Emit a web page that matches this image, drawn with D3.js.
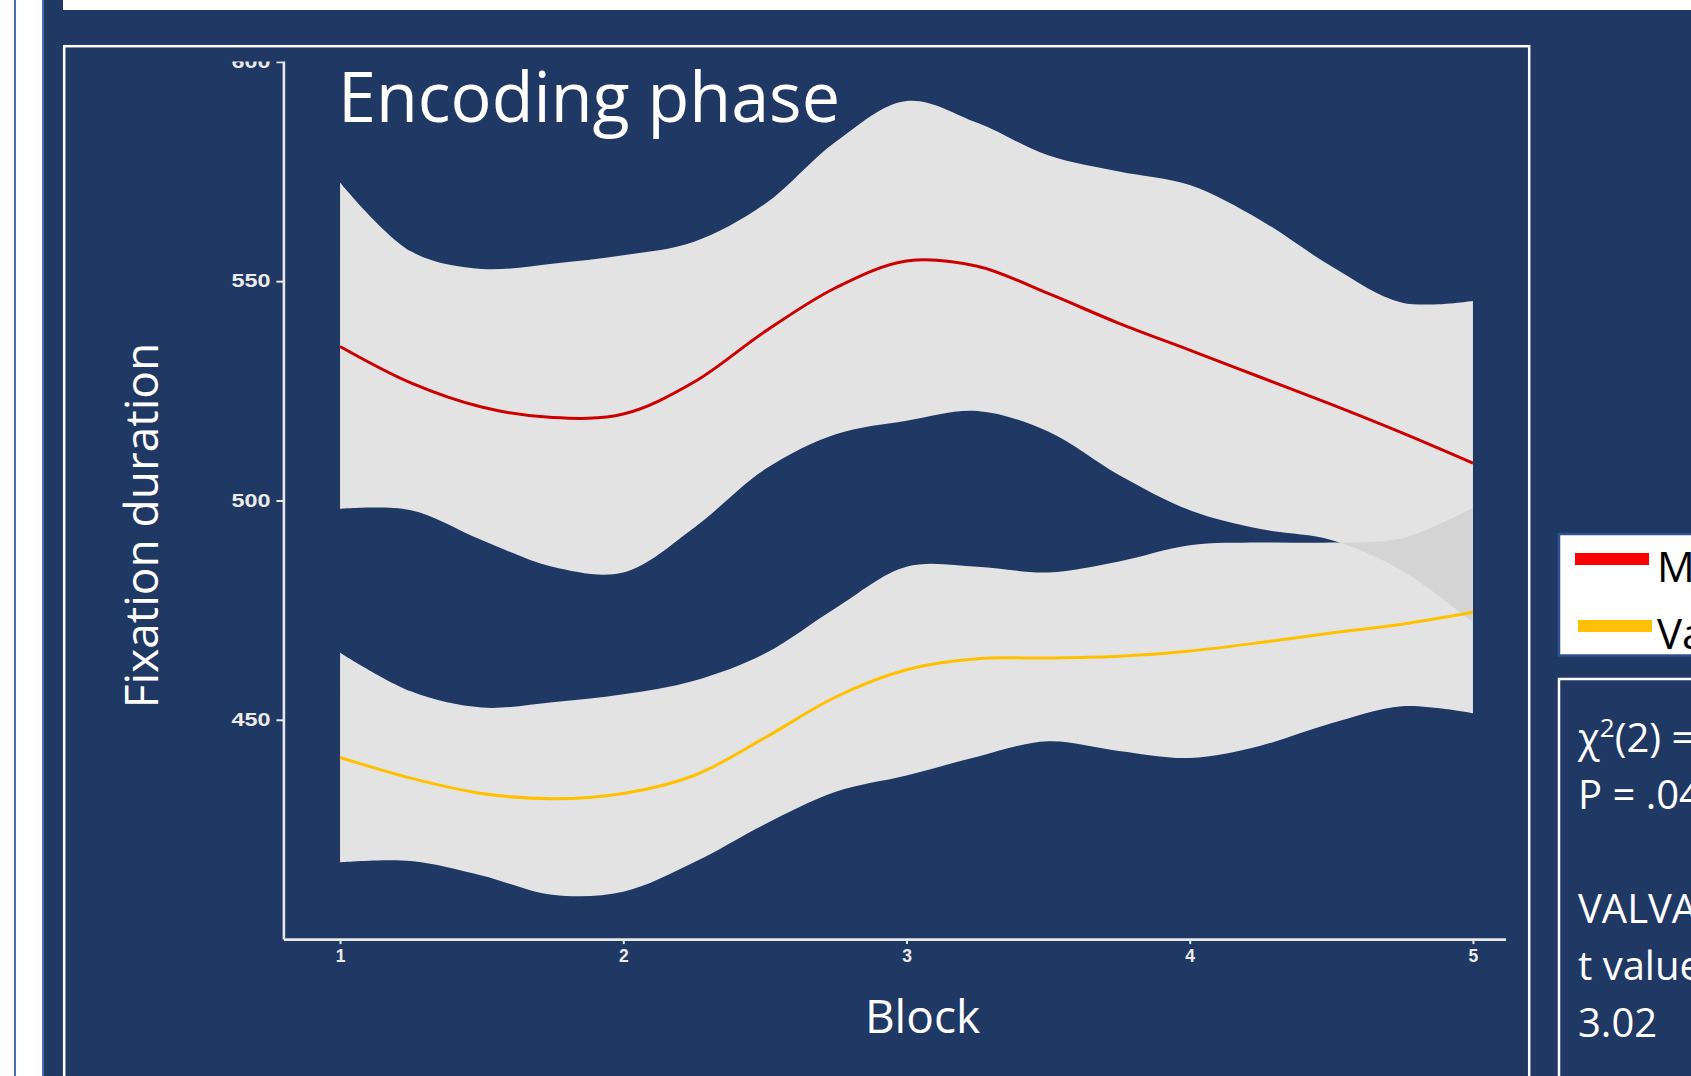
<!DOCTYPE html>
<html>
<head>
<meta charset="utf-8">
<script src="https://cdn.jsdelivr.net/npm/d3@7"></script>
<style>
  html, body { margin: 0; padding: 0; background: #ffffff; overflow: hidden; }
  svg { display: block; }
</style>
</head>
<body>
<svg id="slide" width="1691" height="1076"></svg>
<script>
// Loess fits of fixation duration per block, with 95% confidence ribbons
const blocks   = [1, 1.25, 1.5, 1.75, 2, 2.25, 2.5, 2.75, 3, 3.25, 3.5, 3.75, 4, 4.25, 4.5, 4.75, 5];
const redFit   = [535.1, 526.8, 521.3, 518.9, 519.7, 527.0, 538.5, 548.5, 554.6, 553.4, 547.2, 540.4, 534.3, 528.1, 521.9, 515.4, 508.5];
const redHigh  = [572.5, 556.8, 552.8, 554.0, 555.9, 559.0, 567.6, 581.8, 591.1, 586.1, 578.7, 575.0, 571.9, 563.9, 553.4, 545.1, 545.5];
const redLow   = [498.1, 497.8, 491.0, 484.9, 483.6, 493.8, 507.1, 515.1, 518.2, 520.4, 515.7, 505.8, 497.8, 493.5, 491.0, 484.0, 472.2];
const yelFit   = [441.4, 436.7, 433.2, 432.0, 433.2, 437.3, 445.9, 455.2, 461.4, 463.9, 464.1, 464.5, 465.7, 467.6, 469.8, 471.8, 474.5];
const yelHigh  = [465.3, 456.5, 452.8, 454.0, 455.8, 458.9, 465.1, 475.5, 484.9, 484.9, 483.6, 486.1, 489.8, 490.4, 490.4, 491.4, 498.3];
const yelLow   = [417.5, 417.8, 414.5, 410.1, 410.8, 417.5, 426.2, 433.6, 437.3, 441.6, 445.1, 442.9, 441.3, 444.1, 449.2, 453.1, 451.5];

const xTicks = [1, 2, 3, 4, 5];
const yTicks = [450, 500, 550, 600];

const chartTitle = "Encoding phase";
const xTitle = "Block";
const yTitle = "Fixation duration";
const legendLabels = ["M", "Va"];
const statLines = [
  { parts: [["χ", 0], ["2", 1], ["(2) =", 0]] },
  { parts: [["P = .04", 0]] },
  { parts: [["", 0]] },
  { parts: [["VALVA", 0]] },
  { parts: [["t value", 0]] },
  { parts: [["3.02", 0]] }
];

const NAVY = "#203864";
const BAND = "#e3e3e3";
const BAND_OVERLAP = "#d4d4d4";
const RED = "#cc0000";
const YELLOW = "#ffc000";

const svg = d3.select("#slide");

// Slide frame
svg.append("rect").attr("x", 0).attr("y", 0).attr("width", 1691).attr("height", 1076).attr("fill", "#ffffff");
svg.append("rect").attr("x", 14).attr("y", 0).attr("width", 2).attr("height", 1076).attr("fill", "#4a6fb2");
svg.append("rect").attr("x", 42).attr("y", 0).attr("width", 2.5).attr("height", 1076).attr("fill", "#4a6fb2");
svg.append("rect").attr("x", 44).attr("y", 0).attr("width", 1647).attr("height", 1076).attr("fill", NAVY);
svg.append("rect").attr("x", 63).attr("y", 0).attr("width", 1628).attr("height", 10).attr("fill", "#ffffff");

// Chart panel border
svg.append("rect").attr("x", 64.2).attr("y", 46.2).attr("width", 1465).attr("height", 1100)
  .attr("fill", "none").attr("stroke", "#ffffff").attr("stroke-width", 2.5);

// Scales
const x = d3.scaleLinear().domain([0.8, 5.2]).range([283.4, 1529.6]);
const y = d3.scaleLinear().domain([400, 602]).range([939.1, 53.1]);

const defs = svg.append("defs");
defs.append("clipPath").attr("id", "plotClip")
  .append("rect").attr("x", 170).attr("y", 61.5).attr("width", 1506 - 170).attr("height", 1000);

const plot = svg.append("g").attr("clip-path", "url(#plotClip)");

const rows = blocks.map((b, i) => ({
  b, rf: redFit[i], rh: redHigh[i], rl: redLow[i], yf: yelFit[i], yh: yelHigh[i], yl: yelLow[i]
}));

const curve = d3.curveCatmullRom.alpha(0.5);
const redArea = d3.area().x(d => x(d.b)).y0(d => y(d.rl)).y1(d => y(d.rh)).curve(curve);
const yelArea = d3.area().x(d => x(d.b)).y0(d => y(d.yl)).y1(d => y(d.yh)).curve(curve);

plot.append("path").attr("d", redArea(rows)).attr("fill", BAND);
plot.append("path").attr("d", yelArea(rows)).attr("fill", BAND);

// Where the two ribbons overlap the grey is darker
defs.append("clipPath").attr("id", "redBandClip")
  .append("path").attr("d", redArea(rows));
plot.append("path").attr("d", yelArea(rows)).attr("fill", BAND_OVERLAP)
  .attr("clip-path", "url(#redBandClip)");

const redLine = d3.line().x(d => x(d.b)).y(d => y(d.rf)).curve(curve);
const yelLine = d3.line().x(d => x(d.b)).y(d => y(d.yf)).curve(curve);
plot.append("path").attr("d", redLine(rows)).attr("fill", "none").attr("stroke", RED).attr("stroke-width", 3);
plot.append("path").attr("d", yelLine(rows)).attr("fill", "none").attr("stroke", YELLOW).attr("stroke-width", 3);

// Axes
const axisColor = "#e8e8e8";
const yAxis = plot.append("g").attr("transform", `translate(${x(0.8)},0)`)
  .call(d3.axisLeft(y).tickValues(yTicks).tickSize(7).tickPadding(6).tickSizeOuter(0));
const xAxis = plot.append("g").attr("transform", `translate(0,${y(400)})`)
  .call(d3.axisBottom(x).tickValues(xTicks).tickSize(5).tickPadding(5).tickSizeOuter(0).tickFormat(d3.format("d")));

[yAxis, xAxis].forEach(g => {
  g.select(".domain").attr("stroke", axisColor).attr("stroke-width", 2.6);
  g.selectAll(".tick line").attr("stroke", axisColor).attr("stroke-width", 2);
  g.selectAll(".tick text").attr("fill", "#ebebeb")
    .style("font-family", "'Liberation Sans', Arial, sans-serif").style("font-size", "17.5px")
    .style("font-weight", "bold");
});
yAxis.selectAll(".tick text").attr("textLength", 39).attr("lengthAdjust", "spacingAndGlyphs");

// Titles
svg.append("text").attr("x", 338).attr("y", 122)
  .attr("textLength", 502).attr("lengthAdjust", "spacingAndGlyphs")
  .style("font-family", "'Open Sans', sans-serif").style("font-size", "70px").attr("fill", "#ffffff")
  .text(chartTitle);

svg.append("text").attr("x", 922.5).attr("y", 1033).attr("text-anchor", "middle")
  .style("font-family", "'Open Sans', sans-serif").style("font-size", "46px").attr("fill", "#ffffff")
  .text(xTitle);

svg.append("text").attr("transform", "translate(158,525.5) rotate(-90)").attr("text-anchor", "middle")
  .style("font-family", "'Open Sans', sans-serif").style("font-size", "46px").attr("fill", "#ffffff")
  .text(yTitle);

// Legend box
const legend = svg.append("g");
legend.append("rect").attr("x", 1559).attr("y", 534).attr("width", 200).attr("height", 121.5)
  .attr("fill", "#ffffff").attr("stroke", "#2f528f").attr("stroke-width", 2.5);
const legendColors = ["#ff0000", YELLOW];
const legendY = [559, 626];
const legendX = [1575, 1578];
legendLabels.forEach((lab, i) => {
  legend.append("rect").attr("x", legendX[i]).attr("y", legendY[i] - 6).attr("width", 74).attr("height", 12)
    .attr("fill", legendColors[i]);
  legend.append("text").attr("x", 1657).attr("y", legendY[i] + 23)
    .style("font-family", "'Open Sans', sans-serif").style("font-size", "42px").attr("fill", "#000000")
    .text(lab);
});

// Statistics box
svg.append("rect").attr("x", 1559).attr("y", 679).attr("width", 200).attr("height", 500)
  .attr("fill", "none").attr("stroke", "#ffffff").attr("stroke-width", 2.5);
const statBase = [752, 809, 866, 923, 980, 1037];
statLines.forEach((line, i) => {
  const t = svg.append("text").attr("x", 1578).attr("y", statBase[i])
    .style("font-family", "'Open Sans', sans-serif").style("font-size", "40px").attr("fill", "#ffffff");
  line.parts.forEach(([txt, sup], j) => {
    const ts = t.append("tspan").text(txt);
    if (sup) ts.attr("dy", -15).style("font-size", "26px");
    else if (j > 0 && line.parts[j - 1][1]) ts.attr("dy", 15);
  });
});
</script>
</body>
</html>
